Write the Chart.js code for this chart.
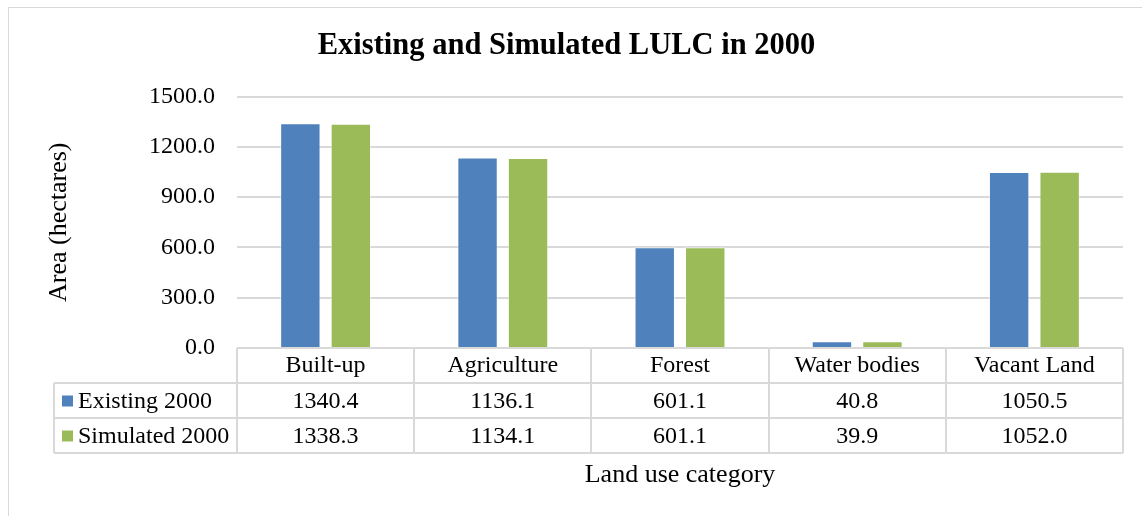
<!DOCTYPE html>
<html>
<head>
<meta charset="utf-8">
<script src="https://cdn.jsdelivr.net/npm/chart.js@4.4.0/dist/chart.umd.min.js"></script>
<style>
    body { margin: 0; background: #fff; }
    #wrap { position: relative; width: 1142px; height: 516px; overflow: hidden; }
    #frame { position: absolute; left: 8px; top: 7px; width: 1300px; height: 700px;
             border-top: 1px solid #d9d9d9; border-left: 1px solid #d9d9d9; }
    #chart { position: absolute; left: 0; top: 0; }
</style>
</head>
<body>
<div id="wrap">
    <div id="frame"></div>
    <canvas id="chart" width="1142" height="516"></canvas>
</div>
<script>
const categories = ['Built-up', 'Agriculture', 'Forest', 'Water bodies', 'Vacant Land'];
const existing2000 = [1340.4, 1136.1, 601.1, 40.8, 1050.5];
const simulated2000 = [1338.3, 1134.1, 601.1, 39.9, 1052.0];
const seriesNames = ['Existing 2000', 'Simulated 2000'];
const seriesColors = ['#4f81bd', '#9bbb59'];
const yMin = 0, yMax = 1500, yStep = 300;

const serif = '"Liberation Serif", "Times New Roman", serif';
const lineColor = '#d9d9d9';

// Excel-style data table under the x axis
const dataTablePlugin = {
    id: 'dataTable',
    afterDraw(chart) {
        const ctx = chart.ctx;
        const x = chart.scales.x;
        const top = chart.chartArea.bottom;
        const rowH = 35;
        const legendLeft = 54;
        const colW = (x.right - x.left) / categories.length;
        const rows = [existing2000, simulated2000];

        ctx.save();
        ctx.strokeStyle = lineColor;
        ctx.lineWidth = 2;
        ctx.beginPath();
        // vertical lines between categories
        for (let i = 0; i <= categories.length; i++) {
            const px = Math.round(x.left + i * colW);
            ctx.moveTo(px, top);
            ctx.lineTo(px, top + rowH * 3);
        }
        // horizontal lines
        for (let r = 1; r <= 3; r++) {
            ctx.moveTo(legendLeft, top + rowH * r);
            ctx.lineTo(x.right, top + rowH * r);
        }
        ctx.moveTo(legendLeft, top + rowH);
        ctx.lineTo(legendLeft, top + rowH * 3);
        ctx.stroke();

        ctx.font = '24px ' + serif;
        ctx.fillStyle = '#000';
        ctx.textBaseline = 'middle';
        rows.forEach((vals, r) => {
            const cy = top + rowH * (r + 1) + rowH / 2 + 1;
            // legend key + name
            ctx.fillStyle = seriesColors[r];
            ctx.fillRect(legendLeft + 8, cy - 6, 11, 11);
            ctx.fillStyle = '#000';
            ctx.textAlign = 'left';
            ctx.fillText(seriesNames[r], legendLeft + 24, cy);
            ctx.textAlign = 'center';
            vals.forEach((v, i) => {
                ctx.fillText(v.toFixed(1), x.getPixelForValue(i), cy);
            });
        });
        ctx.restore();
    }
};

new Chart(document.getElementById('chart'), {
    type: 'bar',
    data: {
        labels: categories,
        datasets: [
            {
                label: seriesNames[0],
                data: existing2000,
                backgroundColor: seriesColors[0],
                borderColor: 'rgba(255,255,255,0.5)',
                borderWidth: 1
            },
            {
                label: seriesNames[1],
                data: simulated2000,
                backgroundColor: seriesColors[1],
                borderColor: 'rgba(255,255,255,0.5)',
                borderWidth: 1
            }
        ]
    },
    options: {
        responsive: false,
        animation: false,
        categoryPercentage: 0.57,
        barPercentage: 0.8,
        layout: { padding: { top: 10, left: 10, right: 19, bottom: 21 } },
        plugins: {
            legend: { display: false },
            tooltip: { enabled: false },
            title: {
                display: true,
                text: 'Existing and Simulated LULC in 2000',
                color: '#000',
                font: { family: serif, size: 30.5, weight: 'bold' },
                padding: { top: 18, bottom: 32 }
            }
        },
        scales: {
            x: {
                grid: { display: false, drawTicks: false },
                border: { display: false },
                ticks: { color: '#000', font: { family: serif, size: 24 }, padding: 3, maxRotation: 0 },
                title: {
                    display: true,
                    text: 'Land use category',
                    color: '#000',
                    font: { family: serif, size: 26 },
                    padding: { top: 77, bottom: 4 }
                }
            },
            y: {
                min: yMin,
                max: yMax,
                afterFit(scale) { scale.width = 227; },
                grid: { color: lineColor, lineWidth: 2, drawTicks: false },
                border: { display: false },
                ticks: {
                    stepSize: yStep,
                    color: '#000',
                    font: { family: serif, size: 24 },
                    padding: 22,
                    callback: v => v.toFixed(1)
                },
                title: {
                    display: true,
                    text: 'Area (hectares)',
                    color: '#000',
                    font: { family: serif, size: 26 },
                    padding: { top: 34, bottom: 0 }
                }
            }
        }
    },
    plugins: [dataTablePlugin]
});
</script>
</body>
</html>
